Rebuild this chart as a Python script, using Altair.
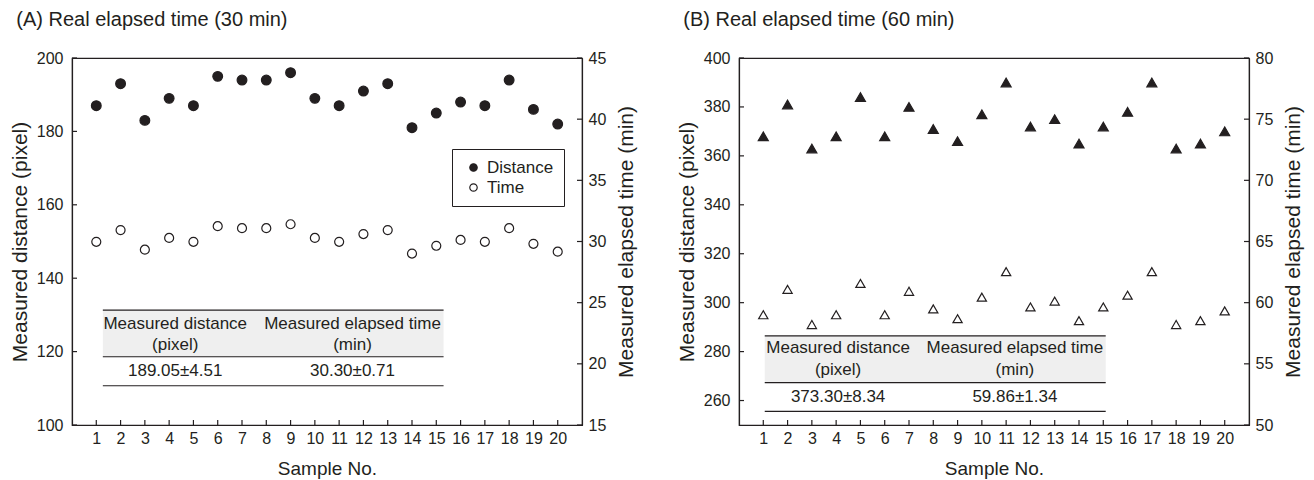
import altair as alt
import pandas as pd

INK = "#231f20"
FONT = "Liberation Sans"

samples = list(range(1, 21))

# Panel A (30 min)
dist_a = [187, 193, 183, 189, 187, 195, 194, 194, 196, 189,
          187, 191, 193, 181, 185, 188, 187, 194, 186, 182]
time_a = [29.97, 30.93, 29.33, 30.29, 29.97, 31.25, 31.09, 31.09, 31.41, 30.29,
          29.97, 30.61, 30.93, 29.01, 29.65, 30.13, 29.97, 31.09, 29.81, 29.17]

# Panel B (60 min)
dist_b = [368, 381, 363, 368, 384, 368, 380, 371, 366, 377,
          390, 372, 375, 365, 372, 378, 390, 363, 365, 370]
time_b = [59.01, 61.09, 58.21, 59.01, 61.57, 59.01, 60.93, 59.49, 58.69, 60.45,
          62.54, 59.65, 60.13, 58.53, 59.65, 60.61, 62.54, 58.21, 58.53, 59.33]

dist_ticks_a = [100, 120, 140, 160, 180, 200]
time_ticks_a = [15, 20, 25, 30, 35, 40, 45]
dist_ticks_b = [260, 280, 300, 320, 340, 360, 380, 400]
time_ticks_b = [50, 55, 60, 65, 70, 75, 80]

header_col1 = ["Measured distance", "(pixel)"]
header_col2 = ["Measured elapsed time", "(min)"]
summary_a = ["189.05±4.51", "30.30±0.71"]
summary_b = ["373.30±8.34", "59.86±1.34"]

# table geometry in data units
table_a = dict(x=[1.27, 15.3], y=[131.3, 118.6, 110.7], cols=[4.25, 11.55], rows=[127.6, 121.9, 114.7])
table_b = dict(x=[1.06, 15.1], y=[286.4, 267.3, 255.6], cols=[4.08, 11.36], rows=[281.3, 272.5, 261.4])

W, H = 510, 367
XDOM = [0, 21]
TITLE_FS = 21


def xenc(field="sample", axis=alt.Undefined):
    return alt.X(f"{field}:Q", scale=alt.Scale(domain=XDOM, nice=False, zero=False), axis=axis)


def panel(dist, time, shape, ddom, dticks, tdom, tticks, table, summary,
          title, rtitle, lx, ly, lab_off, sym_off, psize):
    dscale = alt.Scale(domain=ddom, nice=False, zero=False)
    tscale = alt.Scale(domain=tdom, nice=False, zero=False)
    fill_scale = alt.Scale(domain=["Distance", "Time"], range=[INK, "white"])

    df_d = pd.DataFrame({"sample": samples, "value": dist, "series": "Distance"})
    df_t = pd.DataFrame({"sample": samples, "value": time, "series": "Time"})

    xaxis = alt.Axis(values=samples, tickCount=len(samples) + 1, title="Sample No.",
                     ticks=False, tickSize=0, labelPadding=5, titlePadding=13, grid=False,
                     labelFontSize=16, titleFontSize=19, labelFlush=False, labelOverlap=False)

    pts_d = alt.Chart(df_d).mark_point(shape=shape, filled=True, size=psize, stroke=INK,
                                        strokeWidth=1.2, opacity=1).encode(
        x=xenc(axis=xaxis),
        y=alt.Y("value:Q", scale=dscale,
                axis=alt.Axis(values=dticks, tickCount=len(dticks) + 1,
                              title="Measured distance (pixel)", ticks=False,
                              tickSize=0, labelPadding=9, titlePadding=6, grid=False,
                              labelFontSize=16, titleFontSize=TITLE_FS, labelOverlap=False)),
        fill=alt.Fill("series:N", scale=fill_scale,
                      legend=alt.Legend(orient="none", legendX=lx, legendY=ly, title=None,
                                        strokeColor=INK, padding=10, labelFontSize=17,
                                        labelFont=FONT, labelColor=INK, symbolType=shape,
                                        symbolSize=55, symbolStrokeColor=INK,
                                        symbolStrokeWidth=1.2, labelOffset=lab_off,
                                        symbolOffset=sym_off, rowPadding=2)),
    )

    ytab = lambda f: alt.Y(f"{f}:Q", scale=dscale)

    df_bg = pd.DataFrame({"x1": [table["x"][0]], "x2": [table["x"][1]],
                          "y1": [table["y"][0]], "y2": [table["y"][1]]})
    bg = alt.Chart(df_bg).mark_rect(color="#efefef").encode(
        x=xenc("x1"), x2="x2:Q", y=ytab("y1"), y2="y2:Q")

    df_lines = pd.DataFrame({"x1": [table["x"][0]] * 3, "x2": [table["x"][1]] * 3,
                             "y": table["y"]})
    lines = alt.Chart(df_lines).mark_rule(color=INK, strokeWidth=1.2).encode(
        x=xenc("x1"), x2="x2:Q", y=ytab("y"))

    df_txt = pd.DataFrame({
        "x": [table["cols"][0]] * 3 + [table["cols"][1]] * 3,
        "y": [table["rows"][0], table["rows"][1], table["rows"][2]] * 2,
        "t": [header_col1[0], header_col1[1], summary[0],
              header_col2[0], header_col2[1], summary[1]],
    })
    txt = alt.Chart(df_txt).mark_text(font=FONT, fontSize=17, color=INK,
                                       align="center", baseline="middle").encode(
        x=xenc("x"), y=ytab("y"), text="t:N")

    df_lt = pd.DataFrame({"v": dticks})
    lticks = alt.Chart(df_lt).mark_rule(color=INK, strokeWidth=1.2).encode(
        x=alt.value(0), x2=alt.value(5), y=ytab("v"))

    df_bt = pd.DataFrame({"s": samples})
    bticks = alt.Chart(df_bt).mark_rule(color=INK, strokeWidth=1.2).encode(
        x=xenc("s"), y=alt.value(H), y2=alt.value(H - 5))

    dist_layer = alt.layer(pts_d, bg, lines, txt, lticks, bticks)

    pts_t = alt.Chart(df_t).mark_point(shape=shape, filled=True, size=psize * 0.85, stroke=INK,
                                        strokeWidth=1.2, opacity=1).encode(
        x=xenc(),
        y=alt.Y("value:Q", scale=tscale,
                axis=alt.Axis(orient="right", values=tticks, tickCount=len(tticks) + 1,
                              title=rtitle, ticks=False,
                              tickSize=0, labelPadding=6, titlePadding=10, grid=False,
                              labelFontSize=16, titleFontSize=TITLE_FS, titleAngle=270,
                              titleBaseline="top", labelOverlap=False)),
        fill=alt.Fill("series:N", scale=fill_scale),
    )
    df_rt = pd.DataFrame({"v": tticks})
    rticks = alt.Chart(df_rt).mark_rule(color=INK, strokeWidth=1.2).encode(
        x=alt.value(W), x2=alt.value(W - 5),
        y=alt.Y("v:Q", scale=tscale))
    time_layer = alt.layer(pts_t, rticks)

    return alt.layer(dist_layer, time_layer).resolve_scale(y="independent").properties(
        width=W, height=H,
        title=alt.TitleParams(title, anchor="start", frame="bounds", fontSize=20,
                              fontWeight="normal", color=INK, font=FONT, offset=20, dx=7),
    )


pa = panel(dist_a, time_a, "circle", [100, 200], dist_ticks_a, [15, 45], time_ticks_a,
           table_a, summary_a, "(A) Real elapsed time (30 min)",
           "Measured elapsed time  (min)", 380, 91, 5, 3, 95)
pb = panel(dist_b, time_b, "triangle-up", [250, 400], dist_ticks_b, [50, 80], time_ticks_b,
           table_b, summary_b, "(B) Real elapsed time (60 min)",
           "Measured elapsed time (min)", 362, 124, 10, 4, 100)

chart = alt.hconcat(pa, pb, spacing=37).properties(
    padding={"left": 0, "top": 1, "right": 0, "bottom": 0}
).configure(font=FONT).configure_view(stroke=INK, strokeWidth=1.2).configure_axis(
    labelFont=FONT, titleFont=FONT, labelColor=INK, titleColor=INK,
    titleFontWeight="normal", domainColor=INK, domainWidth=1.2, labelOverlap=False
)

chart.save("out.html", embed_options={"renderer": "svg", "actions": False})
